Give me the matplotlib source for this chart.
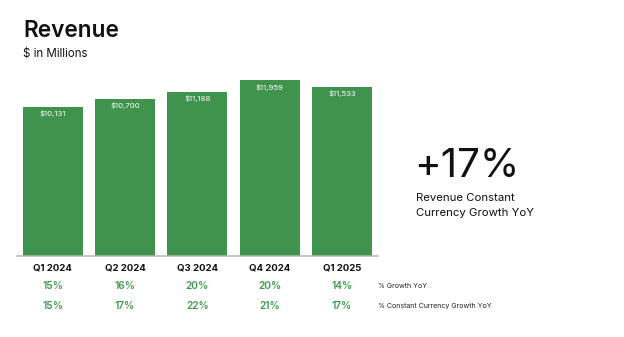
import matplotlib.pyplot as plt

plt.rcParams['font.family'] = ['Inter', 'DejaVu Sans']

quarters = ['Q1 2024', 'Q2 2024', 'Q3 2024', 'Q4 2024', 'Q1 2025']
revenue = [10131, 10700, 11188, 11959, 11533]
growth_yoy = [15, 16, 20, 20, 14]
cc_growth_yoy = [15, 17, 22, 21, 17]

BAR_GREEN = '#3f934c'
TEXT_GREEN = '#3f9a4d'

fig = plt.figure(figsize=(6.24, 3.37), dpi=100)
W, H = 624, 337

# axes placed in pixel terms of the reference
ax = fig.add_axes([16.5 / W, 1 - 255.7 / H, 361.5 / W, (255.7 - 72) / H])
x = range(len(quarters))
ax.bar(x, revenue, width=0.83, color=BAR_GREEN)
ax.set_xlim(-0.5, len(quarters) - 0.5)
ax.set_ylim(0, 12528)

for s in ['top', 'right', 'left']:
    ax.spines[s].set_visible(False)
ax.spines['bottom'].set_color('#b5b5b5')
ax.spines['bottom'].set_linewidth(1.1)
ax.set_xticks([])
ax.set_yticks([])

for i, v in enumerate(revenue):
    ax.annotate(f'${v:,}', xy=(i, v), xytext=(0, -2.4), textcoords='offset points',
                ha='center', va='top', fontsize=5.6, color='white')
    ax.annotate(quarters[i], xy=(i, 0), xycoords=('data', 'axes fraction'),
                xytext=(0, -9.1), textcoords='offset points',
                ha='center', va='center', fontsize=6.9, fontweight='bold', color='#111111')
    ax.annotate(f'{growth_yoy[i]}%', xy=(i, 0), xycoords=('data', 'axes fraction'),
                xytext=(0, -21.8), textcoords='offset points',
                ha='center', va='center', fontsize=7.3, fontweight='semibold', color=TEXT_GREEN)
    ax.annotate(f'{cc_growth_yoy[i]}%', xy=(i, 0), xycoords=('data', 'axes fraction'),
                xytext=(0, -36.2), textcoords='offset points',
                ha='center', va='center', fontsize=7.3, fontweight='semibold', color=TEXT_GREEN)

fig.text(378 / W, 1 - 286 / H, '% Growth YoY', fontsize=5.1, va='center', ha='left', color='#222222')
fig.text(378 / W, 1 - 306 / H, '% Constant Currency Growth YoY', fontsize=5.1, va='center',
         ha='left', color='#222222')

# title
fig.text(23 / W, 1 - 37 / H, 'Revenue', fontsize=16.3, fontweight='semibold', va='baseline', color='#111111')
fig.text(23 / W, 1 - 57 / H, '$ in Millions', fontsize=8.3, va='baseline', color='#111111')

# callout on the right
fig.text(414 / W, 1 - 177 / H, '+17%', fontsize=29, va='baseline', color='#111111')
fig.text(416 / W, 1 - 198 / H, 'Revenue Constant', fontsize=8.2, va='center', color='#111111')
fig.text(416 / W, 1 - 213 / H, 'Currency Growth YoY', fontsize=8.2, va='center', color='#111111')

fig.savefig('out.png', dpi=100)
